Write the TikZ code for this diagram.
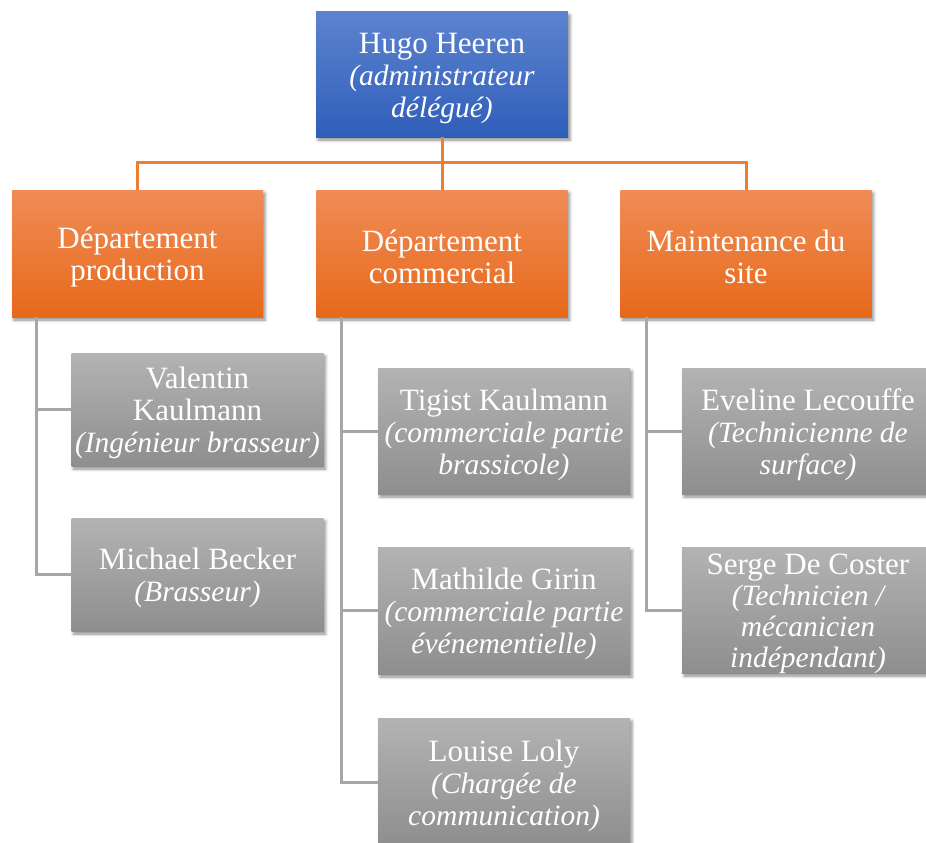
\documentclass[tikz,border=0pt]{standalone}
\usepackage{fontspec}
\setmainfont{Liberation Serif}
\usetikzlibrary{calc,shadows.blur}

\definecolor{bluetop}{HTML}{5D83CF}
\definecolor{bluebot}{HTML}{2F5EB9}
\definecolor{orangetop}{HTML}{F08C56}
\definecolor{orangebot}{HTML}{E7691B}
\definecolor{graytop}{HTML}{B3B3B3}
\definecolor{graybot}{HTML}{8E8E8E}
\definecolor{orangeline}{HTML}{EE7E34}
\definecolor{grayline}{HTML}{A6A6A6}

% job titles in italics, slightly narrower set
\newcommand\jobtitle[1]{{\fontsize{29.5}{32}\selectfont\itshape #1}}

\tikzset{
  boxtext/.style={text=white, align=center, inner sep=0pt, yshift=-3.5pt,
    font=\fontsize{31}{32}\selectfont},
  box/.style={rectangle, inner sep=0pt,
    blur shadow={shadow xshift=2pt, shadow yshift=-3pt, shadow blur radius=3pt, shadow opacity=45}},
  headbox/.style={box, top color=bluetop, bottom color=bluebot, minimum width=252pt, minimum height=125pt},
  deptbox/.style={box, top color=orangetop, bottom color=orangebot, minimum width=251pt, minimum height=127pt},
  staffbox/.style={box, top color=graytop, bottom color=graybot, minimum width=252pt},
  orangelink/.style={draw=orangeline, line width=3pt},
  graylink/.style={draw=grayline, line width=3pt},
}

\begin{document}
\begin{tikzpicture}[x=1pt, y=-1pt]
\useasboundingbox (0,0) rectangle (926,843);
\clip (0,0) rectangle (926,843);

% head
\node[headbox, label={[boxtext]center:{Hugo Heeren\\\jobtitle{(administrateur}\\\jobtitle{délégué)}}}] (head) at (442,74.5) {};

% departments
\node[deptbox, label={[boxtext]center:{Département\\production}}] (d1) at (137.5,253.5) {};
\node[deptbox, label={[boxtext]center:{Département\\commercial}}] (d2) at (442,253.5) {};
\node[deptbox, label={[boxtext]center:{Maintenance du\\site}}] (d3) at (746,253.5) {};

% production staff
\node[staffbox, minimum height=113pt, label={[boxtext]center:{Valentin\\Kaulmann\\\jobtitle{(Ingénieur brasseur)}}}] (p1) at (197.5,409.5) {};
\node[staffbox, minimum height=113pt, label={[boxtext]center:{Michael Becker\\\jobtitle{(Brasseur)}}}] (p2) at (197.5,574.5) {};

% commercial staff
\node[staffbox, minimum height=126pt, label={[boxtext]center:{Tigist Kaulmann\\\jobtitle{(commerciale partie}\\\jobtitle{brassicole)}}}] (c1) at (504,431) {};
\node[staffbox, minimum height=127pt, label={[boxtext]center:{Mathilde Girin\\\jobtitle{(commerciale partie}\\\jobtitle{événementielle)}}}] (c2) at (504,610.5) {};
\node[staffbox, minimum height=128pt, label={[boxtext]center:{Louise Loly\\\jobtitle{(Chargée de}\\\jobtitle{communication)}}}] (c3) at (504,782) {};

% maintenance staff
\node[staffbox, minimum height=126pt, label={[boxtext]center:{Eveline Lecouffe\\\jobtitle{(Technicienne de}\\\jobtitle{surface)}}}] (m1) at (808,431) {};
\node[staffbox, minimum height=126pt, label={[boxtext, font=\fontsize{31}{31}\selectfont]center:{Serge De Coster\\\jobtitle{(Technicien /}\\\jobtitle{mécanicien}\\\jobtitle{indépendant)}}}] (m2) at (808,610) {};

% top level links
\draw[orangelink] (head.south) -- (d2.north);
\draw[orangelink] (d1.north) -- ++(0,-27) -| (d3.north);

% department rails
\coordinate (r1) at ($(d1.south west)+(25,0)$);
\coordinate (r2) at ($(d2.south west)+(25,0)$);
\coordinate (r3) at ($(d3.south west)+(26,0)$);
\draw[graylink] (r1) |- (p2.west);
\draw[graylink] (r1 |- p1.west) -- (p1.west);
\draw[graylink] (r2) |- (c3.west);
\draw[graylink] (r2 |- c1.west) -- (c1.west);
\draw[graylink] (r2 |- c2.west) -- (c2.west);
\draw[graylink] (r3) |- (m2.west);
\draw[graylink] (r3 |- m1.west) -- (m1.west);
\end{tikzpicture}
\end{document}
